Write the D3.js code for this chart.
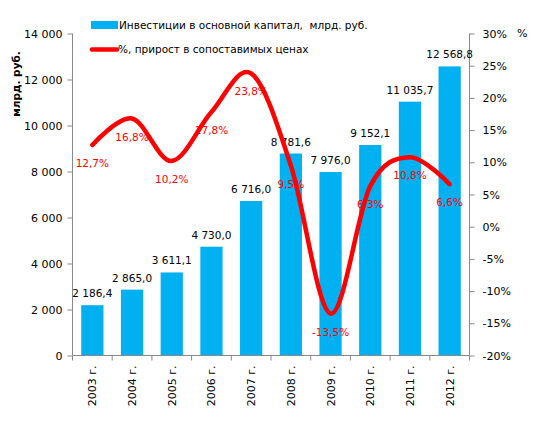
<!DOCTYPE html>
<html><head><meta charset="utf-8">
<script src="https://cdn.jsdelivr.net/npm/d3@7"></script>
<style>
body{margin:0;background:#fff;}
svg text{font-family:"DejaVu Sans",sans-serif;}
</style></head>
<body><svg id="c" width="539" height="448"></svg>
<script>
const years = ["2003 г.","2004 г.","2005 г.","2006 г.","2007 г.","2008 г.","2009 г.","2010 г.","2011 г.","2012 г."];
const investments = [2186.4, 2865.0, 3611.1, 4730.0, 6716.0, 8781.6, 7976.0, 9152.1, 11035.7, 12568.8];
const growth = [12.7, 16.8, 10.2, 17.8, 23.8, 9.5, -13.5, 6.3, 10.8, 6.6];
const leftTicks = [0,2000,4000,6000,8000,10000,12000,14000];
const rightTicks = [-20,-15,-10,-5,0,5,10,15,20,25,30];
const legendLabels = ["Инвестиции в основной капитал,  млрд. руб.", "%, прирост в сопоставимых ценах"];

const svg = d3.select("#c");
const L=72.5, R=469.5, T=33.5, B=355.5;
const FS = 10.5;
const ru = d3.formatLocale({decimal:",", thousands:"\u00a0", grouping:[3], currency:["",""], minus:"-"});
const fInt = ru.format(",d"), fDec = ru.format(",.1f");

const x = d3.scaleBand().domain(years).range([L,R]).paddingInner(0.44).paddingOuter(0.22);
const yL = d3.scaleLinear().domain([0,14000]).range([B,T]);
const yR = d3.scaleLinear().domain([-20,30]).range([B,T]);

// bars
svg.append("g").selectAll("rect").data(investments).join("rect")
  .attr("x",(d,i)=>x(years[i])).attr("width",x.bandwidth())
  .attr("y",d=>yL(d)).attr("height",d=>B-yL(d)).attr("fill","#00B0F0");

// left axis
const gl = svg.append("g").attr("transform",`translate(${L},0)`)
  .call(d3.axisLeft(yL).tickValues(leftTicks).tickSize(5).tickPadding(5).tickFormat(d=>fInt(d)));
// right axis
const gr = svg.append("g").attr("transform",`translate(${R},0)`)
  .call(d3.axisRight(yR).tickValues(rightTicks).tickSize(5).tickPadding(8).tickFormat(d=>ru.format("d")(d)+"%"));
[gl,gr].forEach(g=>{g.selectAll("path,line").attr("stroke","#888");
  g.selectAll("text").attr("font-size",11).attr("fill","#000");});
gl.select(".domain").attr("d",`M0,${T}V${B}`);
gr.select(".domain").attr("d",`M0,${T}V${B}`);

// x axis
const step = x.step();
const gx = svg.append("g");
gx.append("line").attr("x1",L).attr("x2",R).attr("y1",B).attr("y2",B).attr("stroke","#888");
const bounds = d3.range(years.length+1).map(i=>L + i*step);
gx.selectAll("line.t").data(bounds).join("line").attr("class","t")
  .attr("x1",d=>d).attr("x2",d=>d).attr("y1",B).attr("y2",B+5).attr("stroke","#888");
gx.selectAll("text").data(years).join("text")
  .attr("transform",d=>`translate(${x(d)+x.bandwidth()/2+4},${B+10}) rotate(-90)`)
  .attr("text-anchor","end").attr("font-size",FS+0.5).text(d=>d);

// bar value labels
svg.append("g").selectAll("text").data(investments).join("text")
  .attr("x",(d,i)=>x(years[i])+x.bandwidth()/2).attr("y",d=>yL(d)-8)
  .attr("text-anchor","middle").attr("font-size",FS).attr("fill","#000").text(d=>fDec(d));

// line
const cx = i => x(years[i])+x.bandwidth()/2;
const line = d3.line().x((d,i)=>cx(i)).y(d=>yR(d)).curve(d3.curveCatmullRom.alpha(0));
svg.append("path").datum(growth).attr("d",line).attr("fill","none")
  .attr("stroke","#FF0000").attr("stroke-width",4.5).attr("stroke-linecap","round");

svg.append("g").selectAll("text").data(growth).join("text")
  .attr("x",(d,i)=>cx(i)).attr("y",d=>yR(d)+22)
  .attr("text-anchor","middle").attr("font-size",FS).attr("fill","#FF0000")
  .text(d=>fDec(d)+"%");

// axis titles
svg.append("text").attr("transform","translate(20,84) rotate(-90)").attr("text-anchor","middle")
  .attr("font-size",FS).attr("font-weight","bold").text("млрд. руб.");
svg.append("text").attr("x",517).attr("y",37).attr("font-size",11).text("%");

// legend
svg.append("rect").attr("x",91).attr("y",21).attr("width",27).attr("height",8).attr("fill","#00B0F0");
svg.append("text").attr("x",119).attr("y",29).attr("font-size",FS).style("white-space","pre").text(legendLabels[0]);
svg.append("line").attr("x1",92).attr("x2",117).attr("y1",49.5).attr("y2",49.5)
  .attr("stroke","#FF0000").attr("stroke-width",4.5).attr("stroke-linecap","round");
svg.append("text").attr("x",118).attr("y",53).attr("font-size",FS).text(legendLabels[1]);
</script></body></html>
